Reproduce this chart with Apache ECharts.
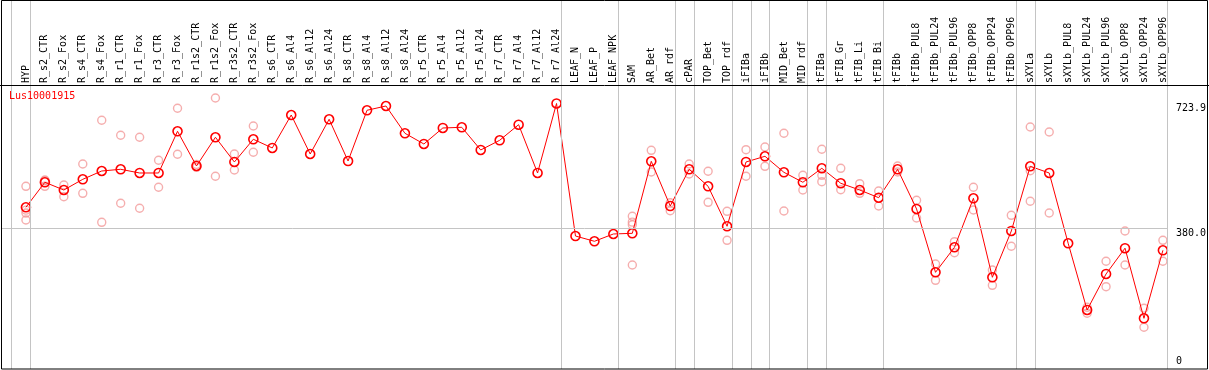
<!DOCTYPE html>
<html>
<head>
<meta charset="utf-8">
<script src="https://cdn.jsdelivr.net/npm/echarts@6/dist/echarts.min.js"></script>
<style>
html,body{margin:0;padding:0;background:#fff;}
#chart{width:1209px;height:370px;}
</style>
</head>
<body>
<div id="chart"></div>
<script>
const seriesName = 'Lus10001915';
const categories = ['HYP','R_s2_CTR','R_s2_Fox','R_s4_CTR','R_s4_Fox','R_r1_CTR','R_r1_Fox','R_r3_CTR','R_r3_Fox','R_r1s2_CTR','R_r1s2_Fox','R_r3s2_CTR','R_r3s2_Fox','R_s6_CTR','R_s6_Al4','R_s6_Al12','R_s6_Al24','R_s8_CTR','R_s8_Al4','R_s8_Al12','R_s8_Al24','R_r5_CTR','R_r5_Al4','R_r5_Al12','R_r5_Al24','R_r7_CTR','R_r7_Al4','R_r7_Al12','R_r7_Al24','LEAF_N','LEAF_P','LEAF_NPK','SAM','AR_Bet','AR_rdf','cPAR','TOP_Bet','TOP_rdf','iFIBa','iFIBb','MID_Bet','MID_rdf','tFIBa','tFIB_Gr','tFIB_Li','tFIB_Bi','tFIBb','tFIBb_PUL8','tFIBb_PUL24','tFIBb_PUL96','tFIBb_OPP8','tFIBb_OPP24','tFIBb_OPP96','sXYLa','sXYLb','sXYLb_PUL8','sXYLb_PUL24','sXYLb_PUL96','sXYLb_OPP8','sXYLb_OPP24','sXYLb_OPP96'];
const means = [437.9,506.8,485.5,515.0,537.9,542.6,532.4,532.4,647.3,551.7,630.8,562.7,625.3,601.3,692.2,584.7,680.4,565.4,705.2,717.0,641.8,612.3,656.4,658.3,595.8,622.5,665.5,532.4,723.9,358.7,344.2,364.3,366.2,564.6,441.4,542.6,495.7,385.6,562.7,578.4,534.3,506.8,545.3,504.0,485.5,464.3,542.6,433.2,258.7,327.6,462.7,245.0,372.6,550.8,532.4,338.7,154.9,254.1,325.2,132.0,319.4];
const replicates = [
  [495.7,430.0,422.0,402.9],[513.1,511.0,495.7],[499.3,467.1],[557.2,476.4],[677.6,396.5],
  [636.3,448.9],[630.8,435.1],[567.4,493.0],[710.7,583.9],[548.0,556.0],
  [739.1,523.3],[584.7,540.6],[661.9,589.4],[],[],
  [],[],[],[],[],
  [],[],[],[],[],
  [],[],[],[],[],
  [],[],[413.1,397.0,389.9,278.9],[594.9,535.1],[450.5,428.5],
  [557.2,529.6],[537.1,451.6],[426.8,346.9],[596.6,523.3],[604.0,550.8],
  [641.8,427.7],[526.0,485.5],[597.7,526.0,508.4],[545.3,486.4],[502.9,476.4],
  [482.8,441.4],[551.7,535.1],[457.2,408.4],[281.6,236.7],[343.1,312.8],
  [493.0,430.4],[265.1,222.9],[415.8,330.4],[659.1,538.7,454.4],[645.4,422.2],
  [],[162.3,145.8],[289.1,219.1],[372.6,278.9],[159.6,107.2],
  [346.9,289.1]
];
const groupEnds = [-1,0,28,31,34,35,37,38,39,41,42,45,52,53,60];
const yTickLabels = [380, 723.9];
const yZeroLabel = [0];
const gridLineValue = 380;

const FONT = 'DejaVu Sans Mono';
const idx = categories.map((c,i)=>i);
const meanData = means.map((v,i)=>[i,v]);
const repData = [];
replicates.forEach((arr,i)=>arr.forEach(v=>repData.push([i,v])));

const chart = echarts.init(document.getElementById('chart'), null, {renderer:'canvas'});
const yMin = -7.7, yMax = 1006.3;
chart.setOption({
  animation:false,
  backgroundColor:'#fff',
  title:{text:seriesName,left:9,top:91,padding:0,textStyle:{color:'#ff0000',fontSize:10,fontWeight:'normal',fontFamily:FONT}},
  grid:{left:1,right:38,top:1,bottom:1,containLabel:false},
  xAxis:{type:'value',position:'top',offset:-84,min:-25/19,max:-25/19+1170/19,
    axisLine:{show:false},axisTick:{show:false},splitLine:{show:false},
    axisLabel:{customValues:idx,rotate:90,margin:2,fontSize:10,fontFamily:FONT,color:'#000',
      formatter:v=>categories[Math.round(v)]}},
  yAxis:[
    {type:'value',position:'right',min:yMin,max:yMax,axisLine:{show:false},axisTick:{show:false},splitLine:{show:false},
     axisLabel:{customValues:yTickLabels,margin:8,fontSize:10,fontFamily:FONT,color:'#000',verticalAlign:'top',
       formatter:v=>Number(v).toFixed(1)}},
    {type:'value',position:'right',min:yMin,max:yMax,axisLine:{show:false},axisTick:{show:false},splitLine:{show:false},
     axisLabel:{customValues:yZeroLabel,margin:8,fontSize:10,fontFamily:FONT,color:'#000',verticalAlign:'bottom',
       formatter:v=>String(Math.round(v))}}
  ],
  series:[
    {type:'scatter',name:'reps',data:repData,symbol:'circle',symbolSize:8,z:2,
     itemStyle:{color:'rgba(0,0,0,0)',borderColor:'#f29a9a',borderWidth:1.4},
     markLine:{silent:true,symbol:'none',label:{show:false},animation:false,
       lineStyle:{color:'#c4c4c4',type:'solid',width:1},
       data:[...groupEnds.map(g=>({xAxis:g+0.25})),{yAxis:gridLineValue}]}},
    {type:'line',name:seriesName,data:meanData,symbol:'circle',symbolSize:9,z:3,
     lineStyle:{color:'#ff0000',width:1},
     itemStyle:{color:'rgba(0,0,0,0)',borderColor:'#ff0000',borderWidth:1.6}}
  ],
  graphic:[
    {type:'rect',shape:{x:1.5,y:0.5,width:1206,height:368.5},style:{fill:null,stroke:'#000',lineWidth:1},z:100,silent:true},
    {type:'line',shape:{x1:0,y1:85.5,x2:1209,y2:85.5},style:{stroke:'#000',lineWidth:1},z:100,silent:true}
  ]
});
</script>
</body>
</html>
